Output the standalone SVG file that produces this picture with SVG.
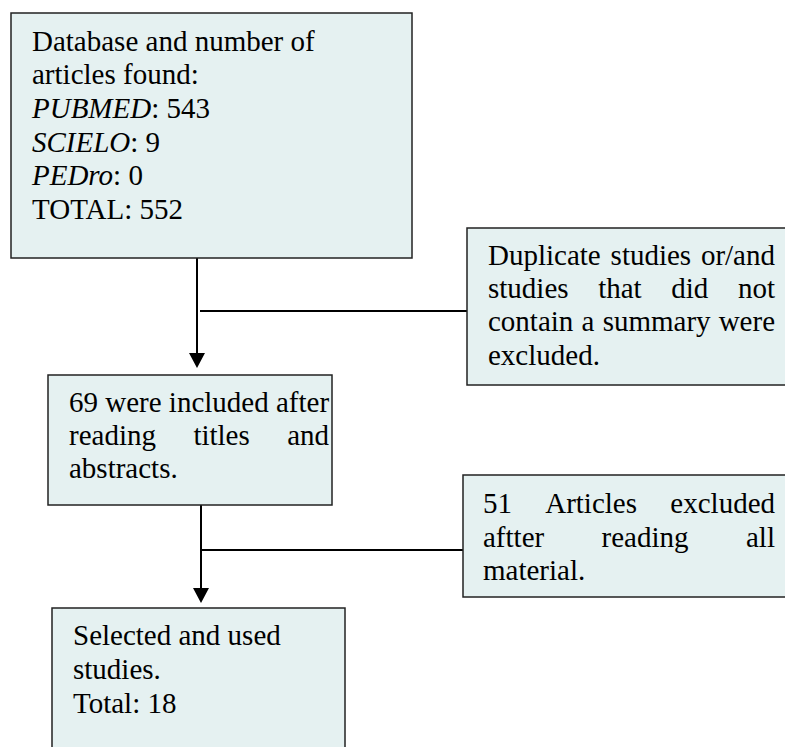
<svg xmlns="http://www.w3.org/2000/svg" width="785" height="747" viewBox="0 0 785 747">
<defs>
<style>
.box{fill:#e5f1f1;stroke:#222;stroke-width:1.5}
.t{font-size:29px;fill:#000}
.i{font-style:italic}
.c{stroke:#000;stroke-width:2;fill:none}
.ah{fill:#000}
</style>
</defs>
<rect width="785" height="747" fill="#fff"/>
<g id="connectors">
<line class="c" x1="197" y1="258" x2="197" y2="354"/>
<polygon class="ah" points="189,353 205,353 197,368"/>
<line class="c" x1="200" y1="311" x2="467" y2="311"/>
<line class="c" x1="201" y1="505" x2="201" y2="589"/>
<polygon class="ah" points="193,588 209,588 201,603"/>
<line class="c" x1="202" y1="550" x2="463" y2="550"/>
</g>
<g id="n1" style="font-family:'Liberation Serif',serif">
<rect class="box" x="11" y="13" width="401" height="245"/>
<text class="t" x="32" y="51">Database and number of</text>
<text class="t" x="32" y="84">articles found:</text>
<text class="t" x="32" y="118"><tspan class="i">PUBMED</tspan>: 543</text>
<text class="t" x="32" y="152"><tspan class="i">SCIELO</tspan>: 9</text>
<text class="t" x="32" y="185"><tspan class="i">PEDro</tspan>: 0</text>
<text class="t" x="32" y="219">TOTAL: 552</text>
</g>
<g id="n2" style="font-family:'Liberation Serif',serif">
<rect class="box" x="467" y="228" width="330" height="157"/>
<text class="t" x="488" y="265">Duplicate</text>
<text class="t" x="610.6" y="265">studies</text>
<text class="t" x="775" y="265" text-anchor="end">or/and</text>
<text class="t" x="488" y="298">studies</text>
<text class="t" x="598.2" y="298">that</text>
<text class="t" x="671.3" y="298">did</text>
<text class="t" x="775" y="298" text-anchor="end">not</text>
<text class="t" x="488" y="331">contain</text>
<text class="t" x="581.6" y="331">a</text>
<text class="t" x="602.7" y="331">summary</text>
<text class="t" x="775" y="331" text-anchor="end">were</text>
<text class="t" x="488" y="365">excluded.</text>
</g>
<g id="n3" style="font-family:'Liberation Serif',serif">
<rect class="box" x="48" y="375" width="284" height="130"/>
<text class="t" x="69" y="412">69 were included after</text>
<text class="t" x="69" y="445">reading</text>
<text class="t" x="193.4" y="445">titles</text>
<text class="t" x="329" y="445" text-anchor="end">and</text>
<text class="t" x="69" y="478">abstracts.</text>
</g>
<g id="n4" style="font-family:'Liberation Serif',serif">
<rect class="box" x="463" y="475" width="334" height="122"/>
<text class="t" x="483" y="513">51</text>
<text class="t" x="545.2" y="513">Articles</text>
<text class="t" x="775" y="513" text-anchor="end">excluded</text>
<text class="t" x="483" y="547">aftter</text>
<text class="t" x="601.6" y="547">reading</text>
<text class="t" x="775" y="547" text-anchor="end">all</text>
<text class="t" x="483" y="580">material.</text>
</g>
<g id="n5" style="font-family:'Liberation Serif',serif">
<rect class="box" x="52" y="608" width="293" height="160"/>
<text class="t" x="73" y="645">Selected and used</text>
<text class="t" x="73" y="679">studies.</text>
<text class="t" x="73" y="713">Total: 18</text>
</g>
</svg>
